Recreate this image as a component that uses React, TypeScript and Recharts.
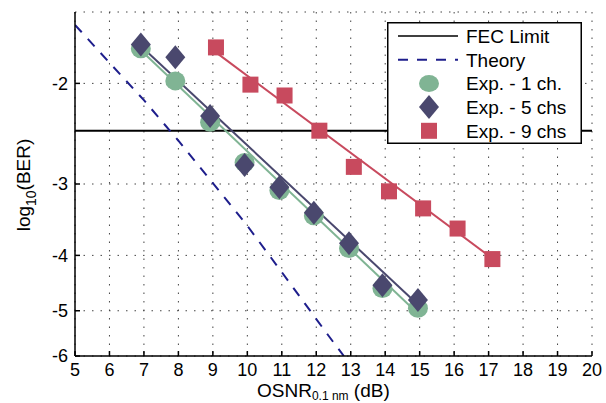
import React from "react";
import {
  ComposedChart,
  Line,
  Scatter,
  XAxis,
  YAxis,
  CartesianGrid,
  ReferenceLine,
} from "recharts";

const xTicks = [5, 6, 7, 8, 9, 10, 11, 12, 13, 14, 15, 16, 17, 18, 19, 20];
const yTicks = [-6, -5, -4, -3, -2];
const fecLimit = -2.42;

// measured points
const osnrExp = [6.91, 7.91, 8.92, 9.92, 10.93, 11.93, 12.95, 13.92, 14.95];
const ber1ch = [-1.74, -1.98, -2.34, -2.75, -3.08, -3.41, -3.89, -4.57, -4.95];
const ber5ch = [-1.71, -1.8, -2.28, -2.78, -3.04, -3.37, -3.81, -4.51, -4.79];
const osnr9ch = [9.09, 10.09, 11.08, 12.09, 13.09, 14.11, 15.1, 16.1, 17.11];
const ber9ch = [-1.73, -2.01, -2.1, -2.42, -2.8, -3.09, -3.31, -3.59, -4.06];

// fitted lines (end points)
const fit1X = [6.91, 14.97];
const fit1Y = [-1.75, -5.07];
const fit5X = [6.91, 14.97];
const fit5Y = [-1.72, -4.89];
const fit9X = [9.09, 17.11];
const fit9Y = [-1.765, -4.05];

// theory curve
const theoryX = [5, 6, 7, 8, 9, 10, 11, 12, 12.5, 12.8];
const theoryY = [-1.58, -1.84, -2.14, -2.52, -2.99, -3.55, -4.28, -5.17, -5.68, -6.0];

const legendNames = ["FEC Limit", "Theory", "Exp. - 1 ch.", "Exp. - 5 chs", "Exp. - 9 chs"];

const GREEN = "#80b494";
const NAVY = "#4a486e";
const RED = "#c84a5e";
const THEORY = "#1e1e8c";
const FONT = "'Liberation Sans', Arial, Helvetica, sans-serif";

const pts = (xs: number[], ys: number[]) => xs.map((x, i) => ({ x, y: ys[i] }));

const Circle = (p: any) => <ellipse cx={p.cx} cy={p.cy} rx={10} ry={9.5} fill={GREEN} />;
const Diamond = (p: any) => (
  <polygon
    points={`${p.cx},${p.cy - 12} ${p.cx + 10},${p.cy} ${p.cx},${p.cy + 12} ${p.cx - 10},${p.cy}`}
    fill={NAVY}
  />
);
const Square = (p: any) => <rect x={p.cx - 8} y={p.cy - 8} width={16} height={16} fill={RED} />;

function LegendBox() {
  const rowY = (i: number) => 14 + i * 23.7;
  return (
    <svg width={195} height={122} style={{ display: "block" }}>
      <rect x={0.75} y={0.75} width={193.5} height={120.5} fill="#fff" stroke="#000" strokeWidth={1.5} />
      <line x1={11} x2={71} y1={rowY(0)} y2={rowY(0)} stroke="#000" strokeWidth={1.5} />
      <line x1={11} x2={71} y1={rowY(1)} y2={rowY(1)} stroke={THEORY} strokeWidth={2} strokeDasharray="10 9" />
      <ellipse cx={42} cy={rowY(2)} rx={10} ry={8.5} fill={GREEN} />
      <polygon
        points={`42,${rowY(3) - 12} 52,${rowY(3)} 42,${rowY(3) + 12} 32,${rowY(3)}`}
        fill={NAVY}
      />
      <rect x={34} y={rowY(4) - 8} width={16} height={16} fill={RED} />
      {legendNames.map((r, i) => (
        <text key={r} x={79} y={rowY(i) + 7} fontSize={19} fontFamily={FONT} fill="#000">
          {r}
        </text>
      ))}
    </svg>
  );
}

export default function App() {
  return (
    <div style={{ position: "absolute", left: 0, top: 0, width: 606, height: 403, background: "#fff" }}>
      <ComposedChart
        width={606}
        height={403}
        margin={{ top: 12, right: 14, bottom: 7, left: 0 }}
        style={{ fontFamily: FONT }}
      >
        <CartesianGrid stroke="#444" strokeDasharray="1.5 7" />
        <XAxis
          type="number"
          dataKey="x"
          domain={[5, 20]}
          ticks={xTicks}
          allowDataOverflow
          height={40}
          tickSize={-5}
          tickMargin={12}
          stroke="#000"
          strokeWidth={1.5}
          tick={{ fill: "#000", fontSize: 18 }}
        />
        <XAxis
          xAxisId="top"
          orientation="top"
          type="number"
          domain={[5, 20]}
          ticks={xTicks}
          allowDataOverflow
          height={0}
          tickSize={-5}
          tick={false}
          stroke="#000"
          strokeWidth={1.5}
        />
        <YAxis
          type="number"
          dataKey="y"
          scale="log"
          domain={[-6, -1.5]}
          ticks={yTicks}
          allowDataOverflow
          width={75}
          tickSize={-5}
          tickMargin={12}
          stroke="#000"
          strokeWidth={1.5}
          tick={{ fill: "#000", fontSize: 18 }}
        />
        <YAxis
          yAxisId="right"
          orientation="right"
          type="number"
          scale="log"
          domain={[-6, -1.5]}
          ticks={yTicks}
          allowDataOverflow
          width={0}
          tickSize={-5}
          tick={false}
          stroke="#000"
          strokeWidth={1.5}
        />
        <ReferenceLine y={fecLimit} stroke="#000" strokeWidth={2} />
        <Line
          data={pts(theoryX, theoryY)}
          dataKey="y"
          stroke={THEORY}
          strokeWidth={2}
          strokeDasharray="10 9"
          dot={false}
          isAnimationActive={false}
        />
        <Scatter data={pts(osnrExp, ber1ch)} dataKey="y" shape={Circle} isAnimationActive={false} />
        <Line data={pts(fit1X, fit1Y)} dataKey="y" stroke={GREEN} strokeWidth={2} dot={false} isAnimationActive={false} />
        <Line data={pts(fit5X, fit5Y)} dataKey="y" stroke={NAVY} strokeWidth={2} dot={false} isAnimationActive={false} />
        <Scatter data={pts(osnrExp, ber5ch)} dataKey="y" shape={Diamond} isAnimationActive={false} />
        <Line data={pts(fit9X, fit9Y)} dataKey="y" stroke={RED} strokeWidth={2} dot={false} isAnimationActive={false} />
        <Scatter data={pts(osnr9ch, ber9ch)} dataKey="y" shape={Square} isAnimationActive={false} />
      </ComposedChart>
      <div
        style={{
          position: "absolute",
          left: 0,
          top: 0,
          width: 606,
          height: 403,
          pointerEvents: "none",
          fontFamily: FONT,
          color: "#000",
        }}
      >
        <div style={{ position: "absolute", left: 387, top: 22 }}>
          <LegendBox />
        </div>
        <div style={{ position: "absolute", left: 257, top: 381, fontSize: 19, whiteSpace: "nowrap", lineHeight: "19px" }}>
          OSNR<span style={{ fontSize: 12, position: "relative", top: 3, lineHeight: "12px" }}>0.1 nm</span> (dB)
        </div>
        <div
          style={{
            position: "absolute",
            left: 24,
            top: 185,
            fontSize: 19,
            whiteSpace: "nowrap",
            lineHeight: "22px",
            transform: "translate(-50%, -50%) rotate(-90deg)",
          }}
        >
          log<span style={{ fontSize: 14, position: "relative", top: 6 }}>10</span>(BER)
        </div>
      </div>
    </div>
  );
}
